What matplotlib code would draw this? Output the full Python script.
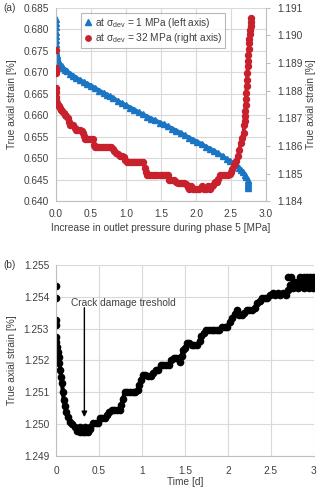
import numpy as np
import matplotlib
matplotlib.use('Agg')
import matplotlib.pyplot as plt

plt.rcParams['font.family'] = ['Liberation Sans', 'DejaVu Sans']
plt.rcParams['font.size'] = 7.3
plt.rcParams['mathtext.fontset'] = 'custom'
plt.rcParams['mathtext.rm'] = 'Liberation Sans'

# (a) sigma_dev = 1 MPa, left axis
p1_x = [0.0, 0.0, 0.0, 0.0, 0.0, 0.0, 0.0, 0.0, 0.0,
        0.005, 0.01, 0.02, 0.03, 0.045, 0.06, 0.08, 0.10, 0.13, 0.16, 0.20,
        0.25, 0.29, 0.34, 0.40, 0.45, 0.50, 0.56, 0.62, 0.68, 0.73, 0.77,
        0.82, 0.88, 0.94, 1.00, 1.06, 1.12, 1.18, 1.24, 1.30, 1.36, 1.42,
        1.48, 1.54, 1.60, 1.66, 1.72, 1.78, 1.84, 1.90, 1.96, 2.02, 2.08,
        2.14, 2.20, 2.26, 2.32, 2.38, 2.44, 2.49, 2.54, 2.58, 2.61, 2.64,
        2.67, 2.70, 2.72, 2.74, 2.75, 2.75, 2.75, 2.74]
p1_y = [0.6823, 0.6815, 0.6805, 0.6795, 0.6785, 0.6775, 0.6765, 0.6757, 0.6750,
        0.6745, 0.6740, 0.6735, 0.6728, 0.6722, 0.6718, 0.6714, 0.6710, 0.6706, 0.6702, 0.6697,
        0.6692, 0.6687, 0.6682, 0.6677, 0.6673, 0.6669, 0.6663, 0.6657, 0.6652, 0.6647, 0.6644,
        0.6640, 0.6633, 0.6628, 0.6623, 0.6618, 0.6613, 0.6607, 0.6602, 0.6597, 0.6592, 0.6588,
        0.6583, 0.6579, 0.6574, 0.6569, 0.6564, 0.6559, 0.6553, 0.6548, 0.6543, 0.6538, 0.6533,
        0.6527, 0.6522, 0.6517, 0.6511, 0.6504, 0.6498, 0.6493, 0.6488, 0.6483, 0.6478, 0.6473,
        0.6468, 0.6462, 0.6456, 0.6450, 0.6445, 0.6440, 0.6435, 0.6431]

# (a) sigma_dev = 32 MPa, right axis
p32_x = [0.0, 0.0, 0.0, 0.0, 0.0, 0.0, 0.0, 0.0,
         0.02, 0.033, 0.045, 0.057, 0.075, 0.09, 0.11, 0.128, 0.15, 0.17, 0.19, 0.20,
         0.225, 0.25, 0.265, 0.28, 0.31, 0.34, 0.37, 0.39, 0.40, 0.41, 0.44, 0.47,
         0.50, 0.53, 0.545, 0.555, 0.58, 0.61, 0.64, 0.67, 0.70, 0.73, 0.76, 0.79,
         0.81, 0.83, 0.86, 0.89, 0.91, 0.94, 0.97, 0.99, 1.01, 1.04, 1.07, 1.10,
         1.13, 1.16, 1.19, 1.22, 1.25, 1.27, 1.28, 1.30, 1.33, 1.36, 1.39, 1.42,
         1.45, 1.48, 1.51, 1.54, 1.57, 1.60, 1.62, 1.65, 1.68, 1.71, 1.74, 1.77,
         1.80, 1.83, 1.86, 1.88, 1.90, 1.93, 1.96, 1.99, 2.02, 2.05, 2.08, 2.11,
         2.14, 2.17, 2.20, 2.23, 2.25, 2.27, 2.30, 2.32, 2.34, 2.37, 2.40, 2.43,
         2.46, 2.48, 2.50, 2.52, 2.55, 2.57, 2.60, 2.62, 2.64, 2.66, 2.68, 2.69,
         2.695, 2.70, 2.705, 2.71, 2.715, 2.72, 2.725, 2.73, 2.735, 2.74, 2.745,
         2.75, 2.755, 2.76, 2.765, 2.77, 2.775, 2.78, 2.785, 2.79]
p32_y = [1.18949, 1.18882, 1.18873, 1.18864, 1.18810, 1.18795, 1.18779, 1.18767,
         1.18755, 1.18749, 1.18743, 1.18737, 1.18731, 1.18725, 1.18719, 1.18713, 1.18707, 1.18700, 1.18685, 1.18677,
         1.18677, 1.18677, 1.18665, 1.18659, 1.18659, 1.18659, 1.18655, 1.18647, 1.18635, 1.18625, 1.18625, 1.18625,
         1.18625, 1.18625, 1.18605, 1.18596, 1.18596, 1.18596, 1.18596, 1.18596, 1.18596, 1.18596, 1.18596, 1.18596,
         1.18590, 1.18580, 1.18576, 1.18572, 1.18562, 1.18562, 1.18560, 1.18548, 1.18541, 1.18541, 1.18541, 1.18541,
         1.18541, 1.18541, 1.18541, 1.18541, 1.18541, 1.18520, 1.18507, 1.18493, 1.18493, 1.18493, 1.18493, 1.18493,
         1.18493, 1.18493, 1.18493, 1.18493, 1.18493, 1.18493, 1.18477, 1.18477, 1.18477, 1.18470, 1.18467, 1.18467,
         1.18467, 1.18467, 1.18462, 1.18450, 1.18443, 1.18455, 1.18443, 1.18443, 1.18443, 1.18443, 1.18455, 1.18443,
         1.18443, 1.18455, 1.18443, 1.18455, 1.18460, 1.18471, 1.18471, 1.18480, 1.18493, 1.18493, 1.18493, 1.18493,
         1.18493, 1.18500, 1.18507, 1.18518, 1.18532, 1.18545, 1.18562, 1.18585, 1.18610, 1.18630, 1.18647, 1.18675,
         1.18690, 1.18707, 1.18728, 1.18750, 1.18771, 1.18792, 1.18816, 1.18840, 1.18864, 1.18888, 1.18909,
         1.18930, 1.18952, 1.18973, 1.18989, 1.19005, 1.19020, 1.19035, 1.19050, 1.19064]

# (b) time series
t_days = [0.0, 0.0, 0.0, 0.0, 0.0,
          0.005, 0.01, 0.02, 0.03, 0.04, 0.05, 0.06, 0.07, 0.08, 0.09, 0.105, 0.12, 0.14, 0.16, 0.19,
          0.22, 0.25, 0.28, 0.31, 0.34, 0.37, 0.40, 0.43, 0.46, 0.49, 0.51, 0.54, 0.57, 0.59,
          0.62, 0.65, 0.68, 0.71, 0.74, 0.76, 0.78, 0.80, 0.83, 0.86, 0.89, 0.92, 0.95, 0.97,
          0.99, 1.01, 1.04, 1.07, 1.10, 1.13, 1.16, 1.19, 1.22, 1.25, 1.28, 1.31, 1.34, 1.37,
          1.40, 1.43, 1.46, 1.48, 1.50, 1.52, 1.55, 1.58, 1.61, 1.64, 1.67, 1.69, 1.72, 1.75,
          1.78, 1.81, 1.84, 1.87, 1.90, 1.93, 1.96, 1.99, 2.02, 2.05, 2.08, 2.10, 2.13, 2.16,
          2.19, 2.22, 2.25, 2.28, 2.31, 2.34, 2.37, 2.40, 2.43, 2.46, 2.49, 2.52, 2.55, 2.58,
          2.61, 2.64, 2.67, 2.70, 2.72, 2.75, 2.78, 2.81, 2.84, 2.87, 2.90, 2.93, 2.96, 2.99]
strain_b = [1.25432, 1.25395, 1.25327, 1.25311, 1.25274,
            1.25258, 1.25243, 1.25227, 1.25212, 1.25191, 1.25170, 1.25149, 1.25128, 1.25102, 1.25076, 1.25057, 1.25039, 1.25023, 1.25008, 1.25000,
            1.24992, 1.24980, 1.24976, 1.24976, 1.24976, 1.24976, 1.24985, 1.25003, 1.25003, 1.25003, 1.25018, 1.25018, 1.25018, 1.25030,
            1.25039, 1.25045, 1.25045, 1.25045, 1.25045, 1.25060, 1.25079, 1.25102, 1.25102, 1.25102, 1.25102, 1.25102, 1.25108, 1.25123,
            1.25140, 1.25154, 1.25154, 1.25150, 1.25150, 1.25160, 1.25170, 1.25170, 1.25186, 1.25186, 1.25186, 1.25186, 1.25200, 1.25207,
            1.25207, 1.25207, 1.25215, 1.25233, 1.25238, 1.25254, 1.25254, 1.25249, 1.25249, 1.25249, 1.25260, 1.25275, 1.25285, 1.25294,
            1.25294, 1.25294, 1.25294, 1.25294, 1.25294, 1.25306, 1.25306, 1.25306, 1.25320, 1.25333, 1.25345, 1.25359, 1.25343, 1.25343,
            1.25350, 1.25359, 1.25359, 1.25359, 1.25365, 1.25380, 1.25385, 1.25395, 1.25395, 1.25395, 1.25405, 1.25411, 1.25405, 1.25411,
            1.25405, 1.25411, 1.25405, 1.25420, 1.25437, 1.25440, 1.25445, 1.25440, 1.25450, 1.25440, 1.25450, 1.25445, 1.25450, 1.25445]
# scattered points around the main band
t_extra = [0.28, 0.34, 0.40, 1.44, 2.70, 2.73, 2.84, 2.88, 2.92, 2.96, 2.99, 2.76, 2.82, 2.88, 2.94, 2.99]
strain_extra = [1.24992, 1.24992, 1.24992, 1.25196, 1.25463, 1.25463, 1.25463, 1.25463, 1.25463, 1.25463, 1.25463,
                1.25427, 1.25427, 1.25427, 1.25427, 1.25427]

blue = '#1a75c2'
red = '#c8202c'
grid_c = '#d9d9d9'
txt_c = '#404040'

fig = plt.figure(figsize=(3.2, 4.93), dpi=100)

# ---- panel (a)
ax1 = fig.add_axes([0.175, 0.592, 0.656, 0.392])
ax1.plot(p1_x, p1_y, color=blue, lw=3.0, zorder=2)
ax1.plot(p1_x, p1_y, '^', color=blue, ms=4.5, mec=blue, zorder=2,
         label=r'at σ$_{\mathregular{dev}}$ = 1 MPa (left axis)')
ax1.set_xlim(0, 3)
ax1.set_ylim(0.640, 0.685)
ax1.set_xticks(np.arange(0, 3.01, 0.5))
ax1.set_yticks(np.arange(0.640, 0.6851, 0.005))
ax1.set_xticklabels(['%.1f' % v for v in np.arange(0, 3.01, 0.5)])
ax1.set_yticklabels(['%.3f' % v for v in np.arange(0.640, 0.6851, 0.005)])
ax1.grid(True, color=grid_c, lw=0.8)
ax1.set_axisbelow(True)
ax1.tick_params(length=0, colors=txt_c, pad=5)
ax1.tick_params(axis='x', pad=6)
for s in ax1.spines.values():
    s.set_visible(False)
ax1.spines['left'].set_visible(True)
ax1.spines['left'].set_color('#bfbfbf')
ax1.spines['bottom'].set_visible(True)
ax1.spines['bottom'].set_color('#bfbfbf')
ax1.set_ylabel('True axial strain [%]', color=txt_c)
ax1.yaxis.set_label_coords(-0.186, 0.5)
ax1.set_xlabel('Increase in outlet pressure during phase 5 [MPa]', color=txt_c)
ax1.xaxis.set_label_coords(0.5, -0.115)

ax2 = ax1.twinx()
ax2.plot(p32_x[4:], p32_y[4:], color=red, lw=2.8, zorder=3)
ax2.plot(p32_x, p32_y, 'o', color=red, ms=4.3, mec=red, zorder=3,
         label=r'at σ$_{\mathregular{dev}}$ = 32 MPa (right axis)')
ax2.set_ylim(1.184, 1.191)
ax2.set_yticks(np.arange(1.184, 1.19101, 0.001))
ax2.set_yticklabels(['%.3f' % v for v in np.arange(1.184, 1.19101, 0.001)])
ax2.tick_params(axis='y', length=3, color='#bfbfbf', labelcolor=txt_c, pad=5)
for s in ax2.spines.values():
    s.set_visible(False)
ax2.spines['right'].set_visible(True)
ax2.spines['right'].set_color('#bfbfbf')
ax2.set_ylabel('True axial strain [%]', color=txt_c)
ax2.yaxis.set_label_coords(1.193, 0.5)

h1, l1 = ax1.get_legend_handles_labels()
h2, l2 = ax2.get_legend_handles_labels()
leg = ax2.legend(h1 + h2, l1 + l2, loc='upper left', bbox_to_anchor=(0.12, 0.972),
                 fontsize=7.3, frameon=True, fancybox=False, edgecolor='#a6a6a6',
                 borderpad=0.25, labelspacing=0.15, handlelength=0.8,
                 handletextpad=0.35, borderaxespad=0, markerscale=0.9)
leg.get_frame().set_linewidth(0.8)
for t in leg.get_texts():
    t.set_color(txt_c)

# ---- panel (b)
ax3 = fig.add_axes([0.175, 0.075, 0.806, 0.388])
ax3.plot(t_days[4:], strain_b[4:], color='black', lw=3.0, zorder=2)
ax3.plot(t_days, strain_b, 'o', color='black', ms=4.5, zorder=2)
ax3.plot(t_extra, strain_extra, 'o', color='black', ms=4.5, zorder=2)
ax3.set_xlim(0, 3)
ax3.set_ylim(1.249, 1.255)
ax3.set_xticks([0, 0.5, 1, 1.5, 2, 2.5, 3])
ax3.set_xticklabels(['0', '0.5', '1', '1.5', '2', '2.5', '3'])
ax3.set_yticks(np.arange(1.249, 1.25501, 0.001))
ax3.set_yticklabels(['%.3f' % v for v in np.arange(1.249, 1.25501, 0.001)])
ax3.grid(True, color=grid_c, lw=0.8)
ax3.set_axisbelow(True)
ax3.tick_params(length=0, colors=txt_c, pad=5)
ax3.tick_params(axis='x', pad=7)
for s in ax3.spines.values():
    s.set_visible(False)
ax3.spines['left'].set_visible(True)
ax3.spines['left'].set_color('#bfbfbf')
ax3.spines['bottom'].set_visible(True)
ax3.spines['bottom'].set_color('#bfbfbf')
ax3.set_ylabel('True axial strain [%]', color=txt_c)
ax3.yaxis.set_label_coords(-0.151, 0.5)
ax3.set_xlabel('Time [d]', color=txt_c)
ax3.xaxis.set_label_coords(0.5, -0.11)

ax3.annotate('', xy=(0.33, 1.25022), xytext=(0.33, 1.25365),
             arrowprops=dict(arrowstyle='-|>', color='black', lw=1.0,
                             mutation_scale=8, shrinkA=0, shrinkB=0))
ax3.text(0.78, 1.2538, 'Crack damage treshold', ha='center', va='center', color=txt_c)

fig.text(0.012, 0.984, '(a)', ha='left', va='center', color=txt_c)
fig.text(0.012, 0.462, '(b)', ha='left', va='center', color=txt_c)

fig.savefig('out.png', dpi=100)
